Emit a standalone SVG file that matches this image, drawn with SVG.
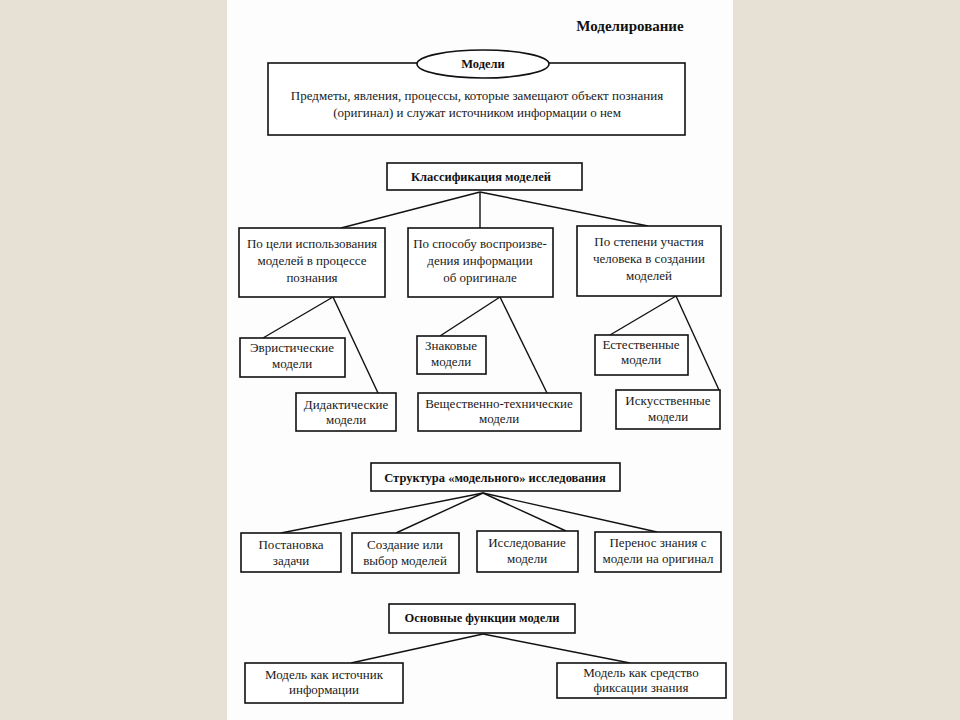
<svg xmlns="http://www.w3.org/2000/svg" width="960" height="720" viewBox="0 0 960 720">
<style>
.box{fill:#fff;stroke:#111;stroke-width:1.6}
.ln{stroke:#111;stroke-width:1.4;fill:none}
.t{font-family:"Liberation Serif","Times New Roman",serif;font-size:13px;fill:#1a1a1a;text-anchor:middle}
.b{font-family:"Liberation Serif","Times New Roman",serif;font-size:12.5px;font-weight:bold;fill:#111;text-anchor:middle}
</style>
<rect x="0" y="0" width="960" height="720" fill="#e6e0d5"/>
<rect x="227" y="0" width="506" height="720" fill="#fdfdfd"/>
<text x="630" y="31" class="b" style="font-size:15px">Моделирование</text>

<g id="connectors">
<line class="ln" x1="480" y1="192" x2="341" y2="228"/>
<line class="ln" x1="480" y1="192" x2="480" y2="228"/>
<line class="ln" x1="480" y1="192" x2="648" y2="226"/>
<line class="ln" x1="333" y1="297" x2="263" y2="338"/>
<line class="ln" x1="333" y1="297" x2="378" y2="393"/>
<line class="ln" x1="500" y1="297" x2="440" y2="336"/>
<line class="ln" x1="500" y1="297" x2="547" y2="393"/>
<line class="ln" x1="676" y1="296" x2="610" y2="335"/>
<line class="ln" x1="676" y1="296" x2="719" y2="390"/>
<line class="ln" x1="483" y1="493" x2="281" y2="533"/>
<line class="ln" x1="483" y1="493" x2="396" y2="533"/>
<line class="ln" x1="483" y1="493" x2="566" y2="531"/>
<line class="ln" x1="483" y1="493" x2="657" y2="532"/>
<line class="ln" x1="483" y1="634" x2="351" y2="663"/>
<line class="ln" x1="483" y1="634" x2="630" y2="663"/>
</g>

<g id="models">
<rect class="box" x="268" y="63" width="417" height="72"/>
<ellipse cx="483" cy="64" rx="66" ry="14" fill="#fff" stroke="#111" stroke-width="1.6"/>
<text x="483" y="68" class="b">Модели</text>
<text x="477" y="100" class="t">Предметы, явления, процессы, которые замещают объект познания</text>
<text x="477" y="117" class="t">(оригинал) и служат источником информации о нем</text>
</g>

<g id="classif">
<rect class="box" x="387" y="163" width="195" height="27"/>
<text x="481" y="181" class="b">Классификация моделей</text>
</g>

<g id="c1">
<rect class="box" x="239" y="228" width="146" height="69"/>
<text x="312" y="248" class="t">По цели использования</text>
<text x="312" y="265" class="t">моделей в процессе</text>
<text x="312" y="282" class="t">познания</text>
</g>
<g id="c2">
<rect class="box" x="408" y="228" width="145" height="69"/>
<text x="480" y="248" class="t">По способу воспроизве-</text>
<text x="480" y="265" class="t">дения информации</text>
<text x="480" y="282" class="t">об оригинале</text>
</g>
<g id="c3">
<rect class="box" x="577" y="226" width="144" height="70"/>
<text x="649" y="246" class="t">По степени участия</text>
<text x="649" y="263" class="t">человека в создании</text>
<text x="649" y="280" class="t">моделей</text>
</g>

<g id="heur">
<rect class="box" x="240" y="338" width="105" height="39"/>
<text x="292" y="352" class="t">Эвристические</text>
<text x="292" y="368" class="t">модели</text>
</g>
<g id="didact">
<rect class="box" x="296" y="393" width="100" height="38"/>
<text x="346" y="409" class="t">Дидактические</text>
<text x="346" y="424" class="t">модели</text>
</g>
<g id="sign">
<rect class="box" x="417" y="336" width="69" height="38"/>
<text x="451" y="350" class="t">Знаковые</text>
<text x="451" y="366" class="t">модели</text>
</g>
<g id="material">
<rect class="box" x="418" y="393" width="163" height="38"/>
<text x="499" y="408" class="t">Вещественно-технические</text>
<text x="499" y="423" class="t">модели</text>
</g>
<g id="natural">
<rect class="box" x="595" y="335" width="93" height="40"/>
<text x="641" y="349" class="t">Естественные</text>
<text x="641" y="364" class="t">модели</text>
</g>
<g id="artificial">
<rect class="box" x="616" y="390" width="104" height="39"/>
<text x="668" y="405" class="t">Искусственные</text>
<text x="668" y="421" class="t">модели</text>
</g>

<g id="structure">
<rect class="box" x="371" y="463" width="249" height="28"/>
<text x="495" y="482" class="b">Структура «модельного» исследования</text>
</g>
<g id="s1">
<rect class="box" x="241" y="533" width="100" height="39"/>
<text x="291" y="549" class="t">Постановка</text>
<text x="291" y="565" class="t">задачи</text>
</g>
<g id="s2">
<rect class="box" x="352" y="533" width="107" height="40"/>
<text x="405" y="549" class="t">Создание или</text>
<text x="405" y="565" class="t">выбор моделей</text>
</g>
<g id="s3">
<rect class="box" x="477" y="531" width="101" height="41"/>
<text x="527" y="547" class="t">Исследование</text>
<text x="527" y="563" class="t">модели</text>
</g>
<g id="s4">
<rect class="box" x="595" y="532" width="126" height="40"/>
<text x="658" y="547" class="t">Перенос знания с</text>
<text x="658" y="563" class="t">модели на оригинал</text>
</g>

<g id="functions">
<rect class="box" x="389" y="604" width="186" height="29"/>
<text x="482" y="622" class="b">Основные функции модели</text>
</g>
<g id="f1">
<rect class="box" x="245" y="663" width="158" height="40"/>
<text x="324" y="679" class="t">Модель как источник</text>
<text x="324" y="694" class="t">информации</text>
</g>
<g id="f2">
<rect class="box" x="557" y="663" width="169" height="35"/>
<text x="641" y="677" class="t">Модель как средство</text>
<text x="641" y="692" class="t">фиксации знания</text>
</g>
</svg>
